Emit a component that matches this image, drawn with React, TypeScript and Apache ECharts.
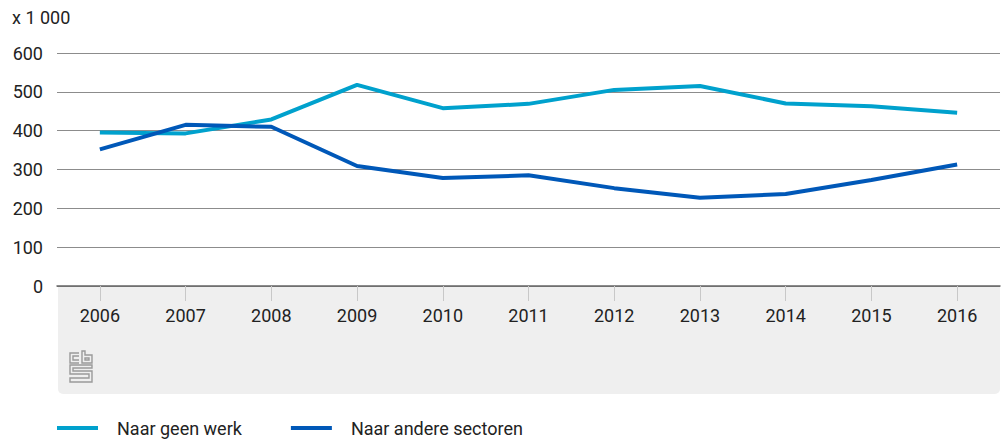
import React, { useEffect, useRef } from "react";
import * as echarts from "echarts";

const years = ["2006", "2007", "2008", "2009", "2010", "2011", "2012", "2013", "2014", "2015", "2016"];
const geenWerk = [395, 393, 429, 518, 458, 469, 505, 515, 470, 463, 446];
const andereSectoren = [352, 415, 410, 309, 278, 285, 252, 227, 237, 273, 313];
const seriesNames = ["Naar geen werk", "Naar andere sectoren"];
const unitLabel = "x 1 000";

const logoPath =
  "M10 2 H1 V12 H10 M10 5 H4 V9 H10 M13 0 V12 H23 V4 H16 V0 Z M16 7 H20 V9 H16 Z M23 14 H1 V23 H20 V27 H1 V31 H23 V20 H4 V17 H23 Z";
echarts.graphic.registerShape("cbslogo", echarts.graphic.extendPath(logoPath, {}) as any);

const FONT = "Roboto";

export default function App() {
  const ref = useRef<HTMLDivElement>(null);
  useEffect(() => {
    document.body.style.margin = "0";
    const chart = echarts.init(ref.current!, null, { renderer: "svg" });
    chart.setOption({
      animation: false,
      textStyle: { fontFamily: FONT },
      grid: { left: 57, right: 1, top: 53, bottom: 153, containLabel: false },
      graphic: [
        {
          type: "rect",
          z: -10,
          shape: { x: 58, y: 286, width: 942, height: 108, r: [0, 0, 5, 5] },
          style: { fill: "#efefef" },
        },
        {
          type: "text",
          left: 12,
          top: 8,
          style: { text: unitLabel, fontSize: 18, fill: "#222", fontFamily: FONT },
        },
        {
          type: "cbslogo",
          x: 69,
          y: 351,
          scaleX: 1,
          scaleY: 1,
          style: { fill: "none", stroke: "#9a9a9a", lineWidth: 1.4 },
        },
      ],
      legend: {
        left: 57,
        top: 418,
        padding: 0,
        itemWidth: 41,
        itemHeight: 4,
        itemGap: 49,
        icon: "rect",
        textStyle: { fontSize: 18, lineHeight: 20, color: "#222", fontFamily: FONT, padding: [0, 0, 0, 14] },
        data: seriesNames,
      },
      xAxis: {
        type: "category",
        data: years,
        boundaryGap: true,
        axisLine: { show: true, lineStyle: { color: "#666", width: 1.5 } },
        axisTick: { show: true, alignWithLabel: true, length: 15, lineStyle: { color: "#c8c8c8" } },
        axisLabel: { fontSize: 18, color: "#222", margin: 20, fontFamily: FONT },
      },
      yAxis: {
        type: "value",
        min: 0,
        max: 600,
        interval: 100,
        axisLine: { show: false },
        axisTick: { show: false },
        axisLabel: { fontSize: 18, color: "#222", margin: 14, fontFamily: FONT },
        splitLine: { lineStyle: { color: "#8c8c8c", width: 1 } },
      },
      series: [
        {
          name: seriesNames[0],
          type: "line",
          data: geenWerk,
          showSymbol: false,
          symbol: "none",
          lineStyle: { color: "#00a1cd", width: 4 },
          itemStyle: { color: "#00a1cd" },
        },
        {
          name: seriesNames[1],
          type: "line",
          data: andereSectoren,
          showSymbol: false,
          symbol: "none",
          lineStyle: { color: "#0058b8", width: 4 },
          itemStyle: { color: "#0058b8" },
        },
      ],
    });
    return () => chart.dispose();
  }, []);
  return <div ref={ref} style={{ width: 1001, height: 439 }} />;
}
